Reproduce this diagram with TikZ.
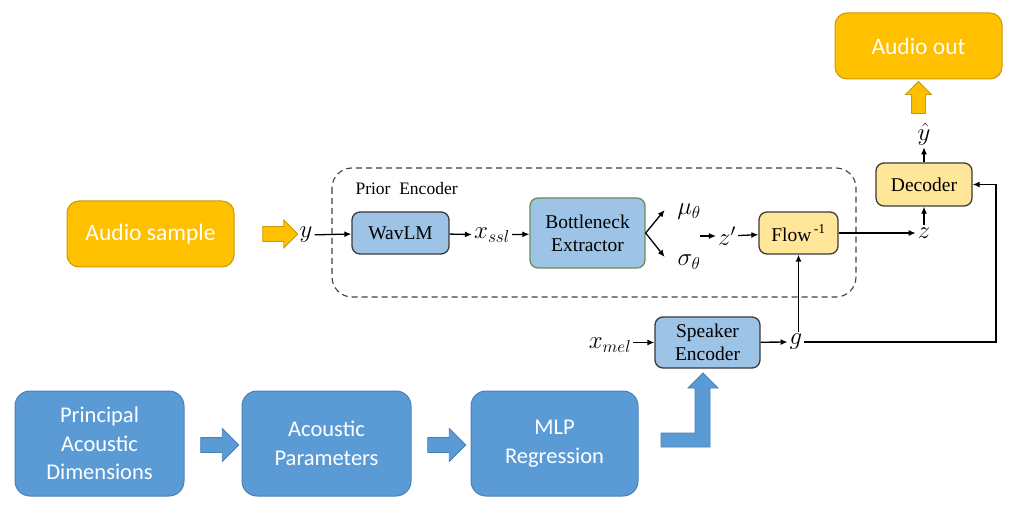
\documentclass[tikz,border=0pt]{standalone}
\usepackage{fontspec}
\setmainfont{Liberation Serif}
\newfontfamily\timesfont{Liberation Serif}
\newfontfamily\calibri{Carlito}
\usetikzlibrary{
  arrows.meta,
  calc,
  positioning,
  shapes.arrows,
}
\definecolor{gold}{HTML}{FFC000}
\definecolor{golddark}{HTML}{C99A06}
\definecolor{bluedark}{HTML}{5B9BD5}
\definecolor{blueline}{HTML}{4A80B8}
\definecolor{bluelight}{HTML}{9DC3E6}
\definecolor{yellowlight}{HTML}{FFE699}
\definecolor{boxline}{HTML}{3A3A3A}
\definecolor{greenline}{HTML}{6D8B55}
\tikzstyle{arrow} = [
  -{Latex[length=7pt,width=6pt]},
  line width=1.3pt,
  black,
]
\tikzstyle{goldbox} = [
  draw=golddark, fill=gold, line width=1pt,
  rounded corners=12pt, text=white,
  font=\calibri\fontsize{23.5}{28}\selectfont,
  minimum width=167pt, minimum height=66pt,
]
\tikzstyle{bigbox} = [
  draw=blueline, fill=bluedark, line width=1pt,
  rounded corners=15pt, text=white, align=center,
  font=\calibri\fontsize{22.5}{28.5}\selectfont,
  minimum width=169pt, minimum height=105pt,
]
\tikzstyle{smallbox} = [
  draw=boxline, line width=1.3pt,
  rounded corners=8pt, align=center,
  font=\timesfont\fontsize{19.5}{23}\selectfont,
  inner sep=0pt,
]
\tikzstyle{sym} = [
  inner sep=2pt,
  font=\fontsize{24}{28}\selectfont,
]
\tikzstyle{fatarrow} = [
  single arrow, single arrow tip angle=90, line width=0.8pt,
]

\begin{document}
\begin{tikzpicture}[x=1pt, y=-1pt]

  \useasboundingbox (0,0) rectangle (1024,518);

  % prior encoder frame
  \draw [dashed, dash pattern=on 6pt off 4pt, line width=1.1pt,
         black!75, rounded corners=20pt]
        (332,168) rectangle (856,297);
  \node [anchor=west, font=\timesfont\fontsize{17.5}{20}\selectfont]
        (prior) at (352,189) {Prior\hspace{0.5em}Encoder};

  % boxes
  \node [goldbox] (aout) at (918.5,46) {Audio out};
  \node [goldbox] (asample) at (150.5,234) {Audio sample};

  \node [smallbox, fill=bluelight, minimum width=97pt, minimum height=42pt]
        (wavlm) at (400.5,233) {WavLM};
  \node [smallbox, fill=bluelight, draw=greenline, minimum width=115pt,
         minimum height=70pt]
        (bottle) at (587.5,233) {Bottleneck\\Extractor};
  \node [smallbox, fill=yellowlight, minimum width=79pt, minimum height=42pt]
        (flow) at (798.5,233) {Flow\textsuperscript{\,-1}};
  \node [smallbox, fill=yellowlight, minimum width=96pt, minimum height=43pt]
        (dec) at (924,184.5) {Decoder};
  \node [smallbox, fill=bluelight, minimum width=105pt, minimum height=51pt]
        (spk) at (707.5,342.5) {Speaker\\Encoder};

  \node [bigbox] (pad) at (99.5,443.5) {Principal\\Acoustic\\Dimensions};
  \node [bigbox] (apar) at (326.5,443.5) {Acoustic\\Parameters};
  \node [bigbox, minimum width=167pt] (mlp) at (554.5,443.5) {MLP\\Regression};

  % symbols
  \node [sym] (y) at (306,235) {$y$};
  \node [sym] (xssl) at (492,235) {$x_{ssl}$};
  \node [sym] (mu) at (689,212) {$\mu_\theta$};
  \node [sym] (sigma) at (689,262) {$\sigma_\theta$};
  \node [sym] (zp) at (727,236) {$z'$};
  \node [sym] (z) at (924,233) {$z$};
  \node [sym] (yhat) at (924,134) {$\hat{y}$};
  \node [sym] (xmel) at (610,345) {$x_{mel}$};
  \node [sym] (g) at (796,342) {$g$};

  \coordinate (zin) at (700,236);
  \coordinate (gturn) at (996,342);

  % connectors
  \draw [arrow] (y) -- (wavlm);
  \draw [arrow] (wavlm) -- (xssl);
  \draw [arrow] (xssl) -- (bottle);
  \draw [arrow] (bottle.east) -- ++(19,-23);
  \draw [arrow] (bottle.east) -- ++(19,24);
  \draw [arrow] (zin) -- (zp);
  \draw [arrow] (zp) -- (flow);
  \draw [arrow] (flow) -- (z);
  \draw [arrow] (z) -- (dec);
  \draw [arrow] (dec) -- (yhat);
  \draw [arrow] (xmel.east |- spk.west) -- (spk.west);
  \draw [arrow] (spk) -- (g);
  \draw [arrow] (flow.south |- g.north) -- (flow.south);
  \draw [arrow] (g.east) -- (gturn) |- (dec.east);

  % block arrows
  \node [fatarrow, fill=gold, draw=golddark, inner sep=7pt,
         minimum height=35pt, single arrow head extend=6.5pt]
        (arrsample) at (276.5,234) {};
  \node [fatarrow, fill=gold, draw=golddark, shape border rotate=90,
         inner sep=6.5pt, minimum height=32pt, single arrow head extend=6pt]
        (arrout) at (918.5,101) {};
  \node [fatarrow, fill=bluedark, draw=blueline, inner sep=7pt,
         minimum height=38pt, single arrow head extend=9pt]
        (arrpad) at (216,445) {};
  \node [fatarrow, fill=bluedark, draw=blueline, inner sep=7pt,
         minimum height=38pt, single arrow head extend=9pt]
        (arrapar) at (443,445) {};

  \filldraw [fill=bluedark, draw=blueline, line width=0.8pt]
        (661,433) -- (695,433) -- (695,388) -- (688,388) -- (703,373)
        -- (718,388) -- (710,388) -- (710,447) -- (661,447) -- cycle;

\end{tikzpicture}
\end{document}
